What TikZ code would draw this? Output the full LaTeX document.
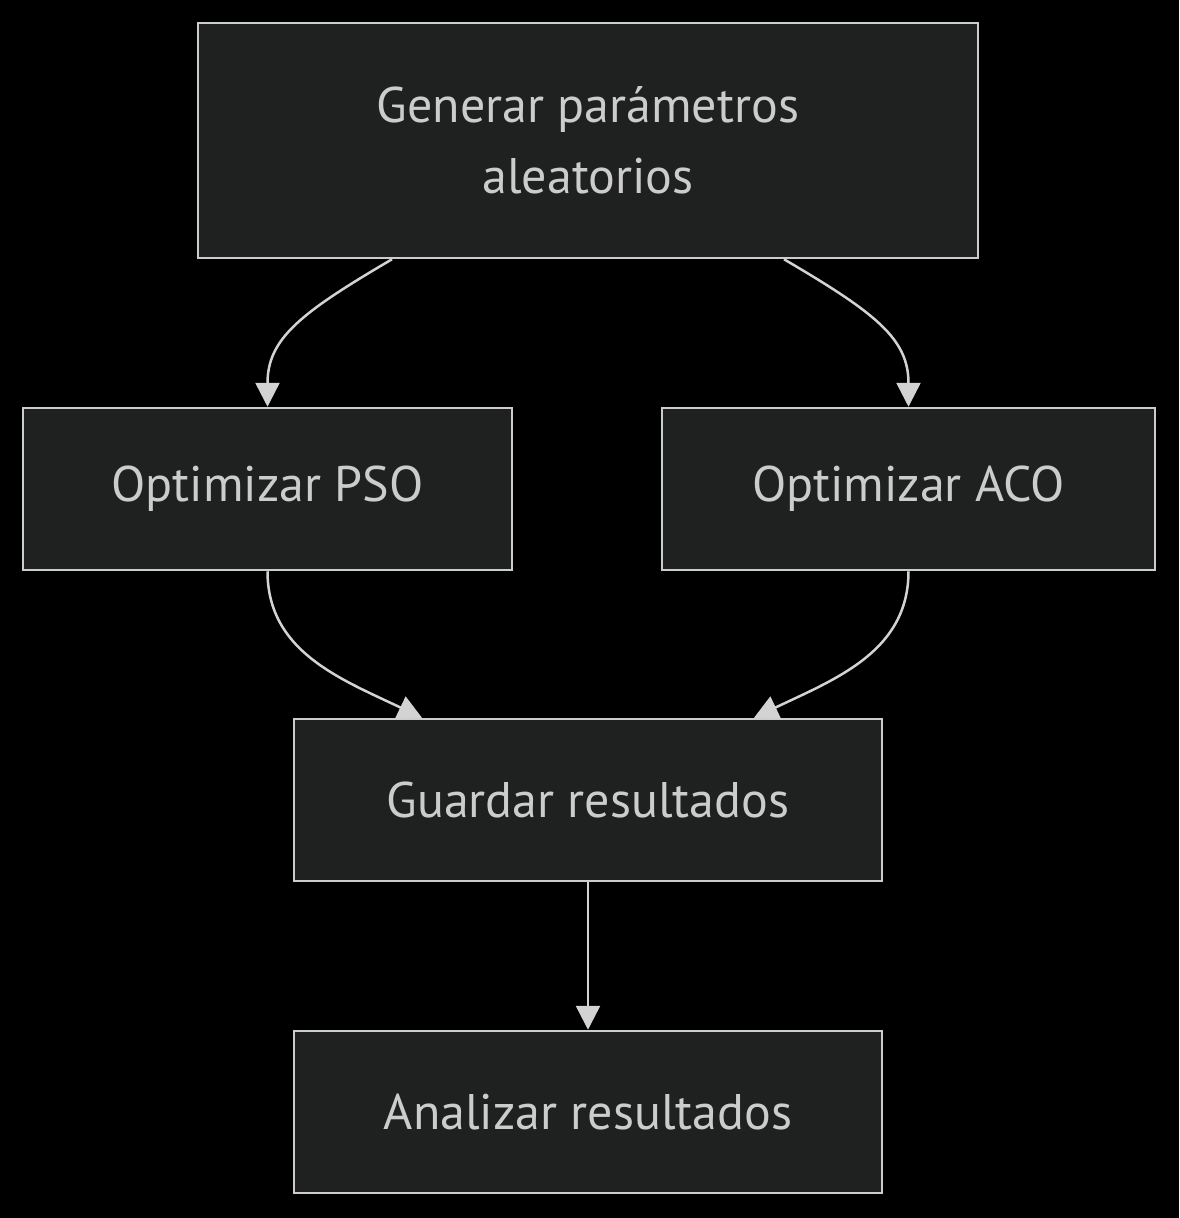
\documentclass[tikz,border=0pt]{standalone}
\usepackage{fontspec}
\setmainfont{PT Sans}
\usetikzlibrary{arrows.meta,positioning}
\definecolor{nodefill}{HTML}{1F2020}
\definecolor{nodeline}{HTML}{CCCCCC}
\definecolor{edgeline}{HTML}{D3D3D3}
\begin{document}
\begin{tikzpicture}[x=1pt,y=-1pt,
    box/.style={draw=nodeline,fill=nodefill,line width=2.5pt,text=nodeline,
        inner sep=0pt,minimum height=162pt,align=center,
        font=\fontsize{50}{71}\selectfont},
    flow/.style={draw=edgeline,line width=2.5pt,
        -{Triangle[width=24pt,length=24pt,fill=edgeline]}}]
    \fill[black] (0,0) rectangle (1179,1218);
    \useasboundingbox (0,0) rectangle (1179,1218);
    % nodes
    \node[box,minimum width=780pt,minimum height=235pt] (gen) at (588,140.5) {Generar parámetros\\aleatorios};
    \node[box,minimum width=489pt] (pso) at (267.5,489) {Optimizar PSO};
    \node[box,minimum width=493pt] (aco) at (908.5,489) {Optimizar ACO};
    \node[box,minimum width=588pt] (save) at (588,800) {Guardar resultados};
    \node[box,minimum width=588pt] (ana) at (588,1112) {Analizar resultados};
    % edges
    \draw[flow] ([xshift=-196pt]gen.south) .. controls +(-92,54) and +(0,-68) .. (pso.north);
    \draw[flow] ([xshift=196pt]gen.south) .. controls +(92,54) and +(0,-68) .. (aco.north);
    \draw[flow] (pso.south) .. controls +(0,80) and +(-82,-39) .. ([xshift=-166pt]save.north);
    \draw[flow] (aco.south) .. controls +(0,80) and +(82,-39) .. ([xshift=166pt]save.north);
    \draw[flow] (save.south) -- (ana.north);
\end{tikzpicture}
\end{document}
